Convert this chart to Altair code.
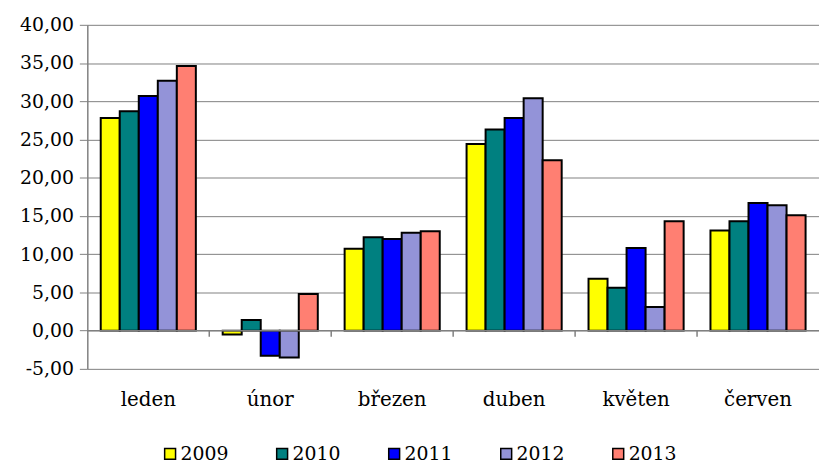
import altair as alt
import pandas as pd

months = ["leden", "únor", "březen", "duben", "květen", "červen"]
years = ["2009", "2010", "2011", "2012", "2013"]
colors = ["#FFFF00", "#008080", "#0000FF", "#9393D8", "#FF7F72"]

v2009 = [27.8, -0.5, 10.7, 24.4, 6.8, 13.1]
v2010 = [28.7, 1.4, 12.2, 26.3, 5.6, 14.3]
v2011 = [30.7, -3.3, 12.0, 27.8, 10.8, 16.7]
v2012 = [32.7, -3.5, 12.8, 30.4, 3.1, 16.4]
v2013 = [34.6, 4.8, 13.0, 22.3, 14.3, 15.1]

series = [v2009, v2010, v2011, v2012, v2013]
rows = []
for y, vals in zip(years, series):
    for m, v in zip(months, vals):
        rows.append({"mesic": m, "rok": y, "hodnota": v})
df = pd.DataFrame(rows)

boundaries = pd.DataFrame({"b": [1, 2, 3, 4, 5], "z": [0] * 5, "z2": [-0.8] * 5})

FONT = "DejaVu Serif"
FS = 19

yscale = alt.Scale(domain=[-5, 40], nice=False, zero=False)
yaxis = alt.Axis(values=list(range(-5, 41, 5)), grid=True, gridColor="#808080",
                 gridWidth=1, domainColor="#808080", domainWidth=1.5,
                 tickColor="#808080", tickSize=8, labelFontSize=FS, labelFont=FONT,
                 labelColor="black", labelPadding=6,
                 labelExpr="replace(replace(format(datum.value, '.2f'), '.', ','), '−', '-')")

bars = alt.Chart(df).mark_bar(stroke="black", strokeWidth=2).encode(
    x=alt.X("mesic:N", sort=months, title=None,
            scale=alt.Scale(paddingInner=0.22, paddingOuter=0.11),
            axis=alt.Axis(domain=False, ticks=False, labelAngle=0, labelFontSize=20,
                          labelFont=FONT, labelColor="black", labelPadding=21)),
    xOffset=alt.XOffset("rok:N", sort=years, scale=alt.Scale(paddingInner=0, paddingOuter=0)),
    y=alt.Y("hodnota:Q", title=None, scale=yscale, axis=yaxis),
    color=alt.Color("rok:N", sort=years, scale=alt.Scale(domain=years, range=colors),
                    legend=alt.Legend(title=None, orient="none", direction="horizontal",
                                      columns=5, legendX=74, legendY=423,
                                      symbolType="square", symbolSize=121,
                                      symbolStrokeColor="black", symbolStrokeWidth=1.5,
                                      labelFontSize=FS, labelFont=FONT, labelColor="black",
                                      labelOffset=1, columnPadding=44)),
)

zero_line = alt.Chart(pd.DataFrame({"hodnota": [0]})).mark_rule(color="#808080", strokeWidth=1.5).encode(
    y=alt.Y("hodnota:Q", title=None, scale=yscale, axis=yaxis)
)

ticks = alt.Chart(boundaries).mark_rule(color="#808080", strokeWidth=1.5).encode(
    x=alt.X("b:Q", scale=alt.Scale(domain=[0, 6], nice=False), axis=None),
    y=alt.Y("z:Q", title=None, scale=yscale, axis=yaxis),
    y2="z2:Q",
)

chart = alt.layer(bars, zero_line, ticks).resolve_scale(x="independent").properties(
    width=738, height=347,
    autosize=alt.AutoSizeParams(type="none"),
    padding={"left": 80, "top": 15, "right": 0, "bottom": 95},
).configure(background="white", font=FONT).configure_view(stroke=None)

chart.save("out.html", embed_options={"renderer": "svg", "actions": False})
